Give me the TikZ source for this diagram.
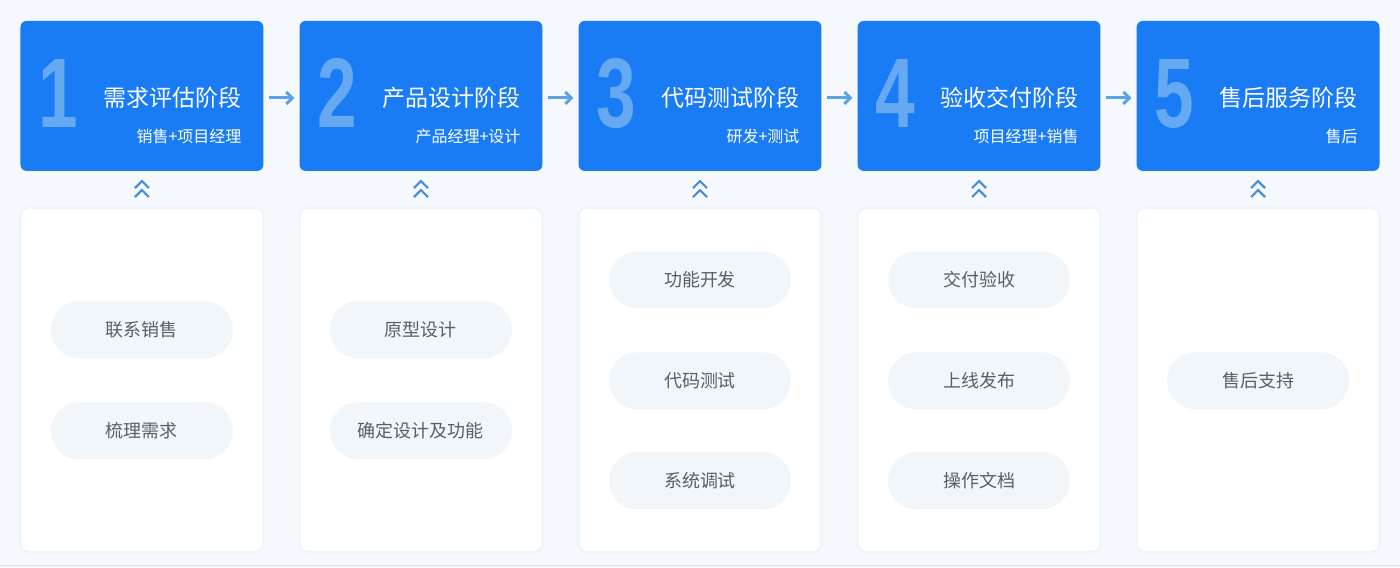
\documentclass[tikz,border=0pt]{standalone}
\usepackage{fontspec}
\setmainfont{Noto Sans CJK SC}
\newfontfamily\digitfont{Liberation Sans}
\usepackage{tikz}
\usetikzlibrary{positioning,calc,arrows.meta}
\definecolor{bgblue}{HTML}{F5F9FD}
\definecolor{stageblue}{HTML}{1A7CF4}
\definecolor{digitblue}{HTML}{64A9F1}
\definecolor{flowblue}{HTML}{5CA4E6}
\definecolor{chevblue}{HTML}{4B8FD6}
\definecolor{pillfill}{HTML}{F1F6FB}
\definecolor{pilltext}{HTML}{5A5F66}
\definecolor{panelrim}{HTML}{EDF4FB}

\begin{document}
\begin{tikzpicture}[x=1pt,y=-1pt]
\tikzset{stagebox/.style={fill=stageblue,rounded corners=6pt,minimum width=243pt,minimum height=150pt,inner sep=0pt},
         stagenum/.style={text=digitblue,inner sep=0pt,font=\digitfont\bfseries\fontsize{99}{99}\selectfont},
         stagetitle/.style={text=white,inner sep=0pt,font=\fontsize{23}{23}\selectfont},
         stagesub/.style={text=white,inner sep=0pt,font=\fontsize{16}{16}\selectfont},
         panel/.style={fill=white,draw=panelrim,line width=2pt,rounded corners=8pt,minimum width=243pt,minimum height=344pt,inner sep=0pt},
         pill/.style={fill=pillfill,rounded corners=28pt,minimum width=182pt,minimum height=57pt,text=pilltext,font=\fontsize{18}{18}\selectfont},
         flow/.style={draw=flowblue,line width=3pt,-{Straight Barb[length=6pt,width=12pt]}},
         chev/.pic={\draw[chevblue,line width=2.2pt] (-7,-1) -- (0,-8) -- (7,-1);
                    \draw[chevblue,line width=2.2pt] (-7,8) -- (0,1) -- (7,8);}}
\fill[bgblue] (0,0) rectangle (1400,568);
\draw[black!12,line width=1pt] (0,566) -- (1400,566);
% stages
\foreach \i/\title/\sub in {1/需求评估阶段/销售+项目经理,2/产品设计阶段/产品经理+设计,3/代码测试阶段/研发+测试,4/验收交付阶段/项目经理+销售,5/售后服务阶段/售后}{
  \node[stagebox] (s\i) at ({141.5+(\i-1)*279.25},96) {};
  \node[stagenum,anchor=base west] (n\i) at ([xshift=18pt,yshift=-32pt]s\i.west) {\scalebox{0.72}[1]{\i}};
  \node[stagetitle,anchor=east] (t\i) at ([xshift=-22pt,yshift=-2pt]s\i.east) {\title};
  \node[stagesub,anchor=east] (u\i) at ([xshift=-22pt,yshift=-41pt]s\i.east) {\sub};
  \node[panel,below=36pt of s\i] (p\i) {};
  \pic at ($(s\i.south)!0.5!(p\i.north)$) {chev};
}
\foreach \i [evaluate=\i as \j using int(\i+1)] in {1,...,4}
  \draw[flow] ([xshift=5pt,yshift=-2pt]s\i.east) -- ([xshift=-5pt,yshift=-2pt]s\j.west);
% tasks
\foreach \c/\y/\task [count=\k] in {1/330/联系销售,1/431/梳理需求,2/330/原型设计,2/431/确定设计及功能,3/280/功能开发,3/381/代码测试,3/481/系统调试,4/280/交付验收,4/381/上线发布,4/481/操作文档,5/381/售后支持}
  \node[pill] (k\k) at ({141.5+(\c-1)*279.25},\y) {\task};
\end{tikzpicture}
\end{document}
